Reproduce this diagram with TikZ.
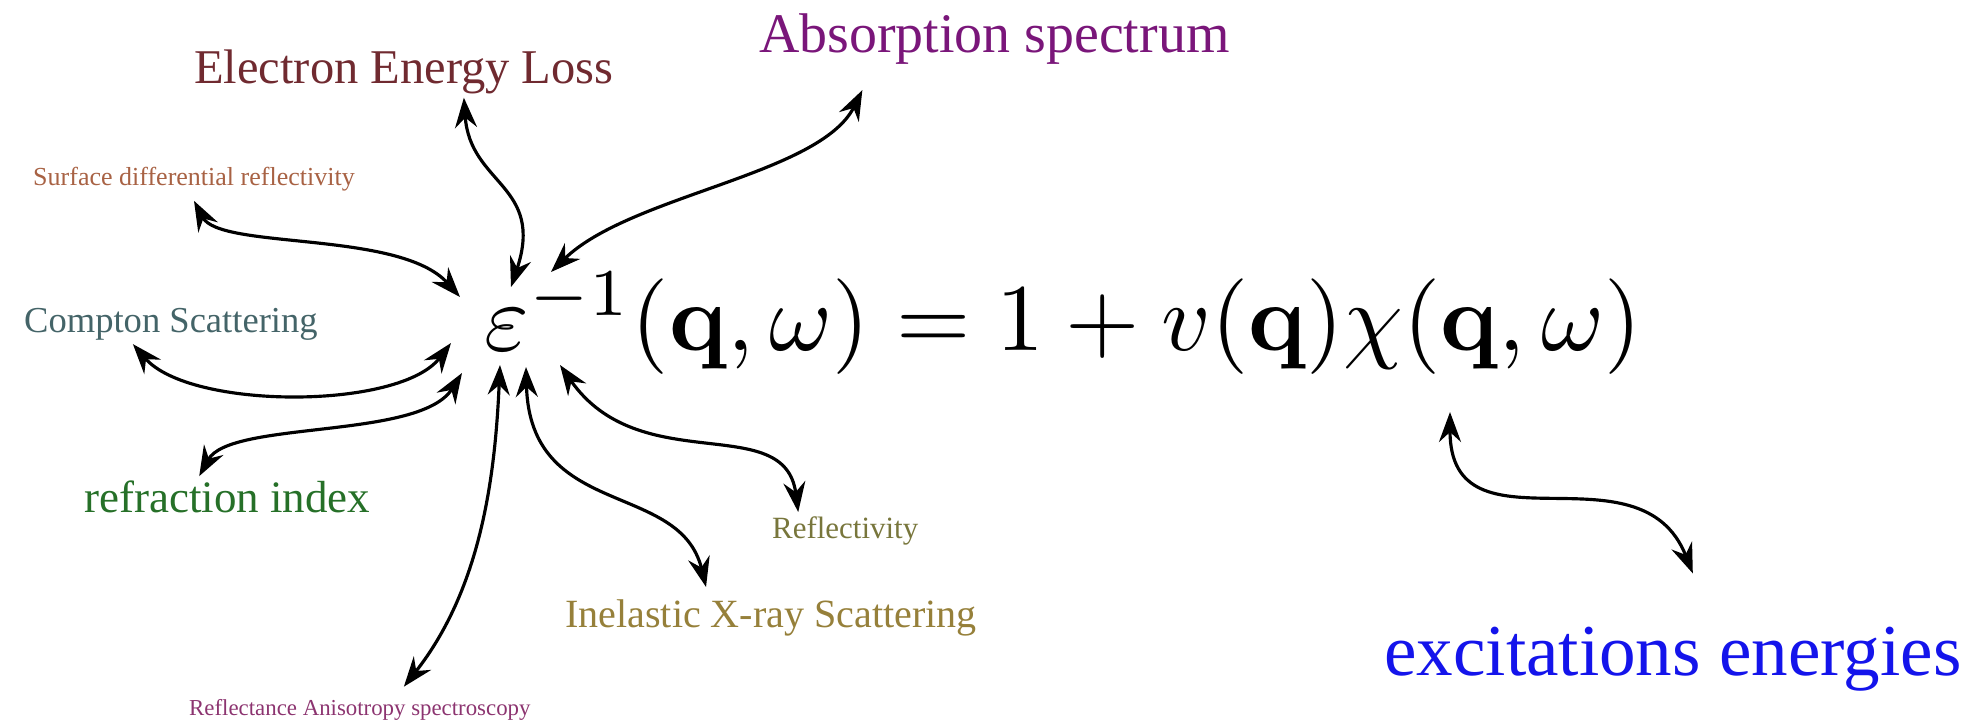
\documentclass[tikz,border=0pt]{standalone}
\usepackage[no-math]{fontspec}
\setmainfont{Liberation Serif}
\usepackage{amsmath,amssymb}
\usepackage{xcolor}
\usetikzlibrary{arrows.meta}
\definecolor{eelred}{RGB}{112,42,48}
\definecolor{abspurple}{RGB}{122,22,122}
\definecolor{sdrbrown}{RGB}{168,98,68}
\definecolor{csgrey}{RGB}{68,100,104}
\definecolor{rigreen}{RGB}{38,112,40}
\definecolor{reflolive}{RGB}{120,118,60}
\definecolor{ixsgold}{RGB}{150,128,58}
\definecolor{rasplum}{RGB}{140,52,112}
\definecolor{excblue}{RGB}{20,20,235}
\newcommand{\fsz}[1]{\fontsize{#1}{#1}\selectfont}
\tikzset{
  lbl/.style ={anchor=base west, inner sep=1pt},
  dar/.style ={{Stealth[length=3mm,width=2.2mm,inset=1mm]}-{Stealth[length=3mm,width=2.2mm,inset=1mm]},
               line width=0.9pt, draw=black},
}

\begin{document}
\begin{tikzpicture}[x=0.1mm,y=-0.1mm]
\useasboundingbox (0,0) rectangle (1975,723);
% equation
\node[lbl,inner sep=0pt] (eq) at (484,350)
  {\scalebox{2.72}{$\varepsilon^{-1}(\mathbf{q},\omega)=1+v(\mathbf{q})\chi(\mathbf{q},\omega)$}};
% probes
\node[lbl,font=\fsz{13.8},color=eelred]    (eel)  at (190,83)   {Electron Energy Loss};
\node[lbl,font=\fsz{15.9},color=abspurple] (abs)  at (755,52)   {Absorption spectrum};
\node[lbl,font=\fsz{7.4},color=sdrbrown]   (sdr)  at (29,185)   {Surface differential reflectivity};
\node[lbl,font=\fsz{10.4},color=csgrey]    (cs)   at (20,332)   {Compton Scattering};
\node[lbl,font=\fsz{12.8},color=rigreen]   (ri)   at (80,512)   {refraction index};
\node[lbl,font=\fsz{8.8},color=reflolive]  (refl) at (768,538)  {Reflectivity};
\node[lbl,font=\fsz{11.4},color=ixsgold]   (ixs)  at (561,627)  {Inelastic X-ray Scattering};
\node[lbl,font=\fsz{6.5},color=rasplum]    (ras)  at (185,715)  {Reflectance Anisotropy spectroscopy};
\node[lbl,font=\fsz{20.8},color=excblue]   (exc)  at (1380,675) {excitations energies};
% arrow ends at the equation
\coordinate (e-sdr)  at (460,297);
\coordinate (e-eel)  at (511,287);
\coordinate (e-abs)  at (551,272);
\coordinate (e-cs)   at (451,343);
\coordinate (e-ri)   at (462,373);
\coordinate (e-ras)  at (500,365);
\coordinate (e-ixs)  at (526,367);
\coordinate (e-refl) at (560,365);
\coordinate (e-chi)  at (1450,412);
\draw[dar] ([xshift=6mm]eel.south) .. controls (470,185) and (545,185) .. (e-eel);
\draw[dar] ([yshift=-0.6mm]sdr.south) .. controls (220,250) and (400,230) .. (e-sdr);
\draw[dar] ([xshift=-13.2mm,yshift=-2.2mm]abs.south) .. controls (820,175) and (630,195) .. (e-abs);
\draw[dar] ([xshift=-3.8mm]cs.south) .. controls (190,410) and (400,410) .. (e-cs);
\draw[dar] ([xshift=-2.8mm]ri.north) .. controls (230,420) and (420,440) .. (e-ri);
\draw[dar] ([xshift=4.4mm,yshift=0.8mm]ras.north) .. controls (480,590) and (495,480) .. (e-ras);
\draw[dar] ([xshift=-6.5mm,yshift=0.8mm]ixs.north) .. controls (680,480) and (530,520) .. (e-ixs);
\draw[dar] ([xshift=-4.7mm]refl.north) .. controls (785,410) and (640,480) .. (e-refl);
\draw[dar] (e-chi) .. controls (1450,560) and (1640,440) .. ([xshift=2mm,yshift=4.9mm]exc.north);
\end{tikzpicture}
\end{document}
